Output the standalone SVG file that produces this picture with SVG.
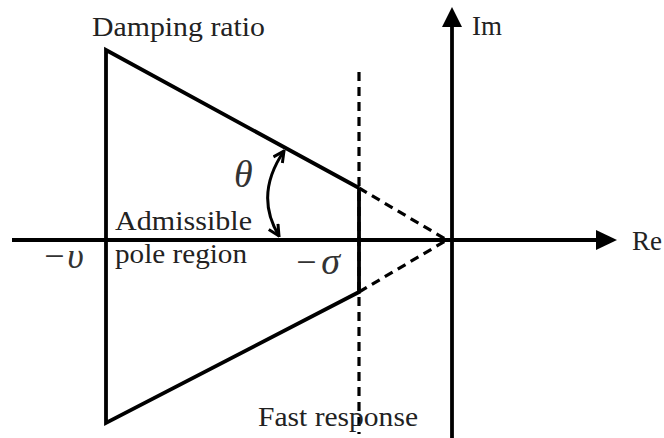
<svg xmlns="http://www.w3.org/2000/svg" width="664" height="438" viewBox="0 0 664 438">
<style>
.ln{stroke:#000;stroke-width:3.8;fill:none;stroke-linecap:butt;stroke-linejoin:miter}
.ax{stroke:#000;stroke-width:4.2;fill:none}
.ds{stroke:#000;stroke-width:3.2;fill:none;stroke-dasharray:9,6}
.t{font-family:"Liberation Serif","Times New Roman",serif;font-size:27px;fill:#222}
.m{font-family:"Liberation Serif","DejaVu Serif","Times New Roman",serif;font-style:italic;fill:#333}
</style>
<defs>
<marker id="va" viewBox="0 0 10 10" refX="9" refY="5" markerWidth="4.5" markerHeight="4.5" markerUnits="strokeWidth" orient="auto-start-reverse">
<path d="M1,1 L9,5 L1,9" fill="none" stroke="#000" stroke-width="2.2"/>
</marker>
</defs>
<g id="axes">
<line class="ax" x1="12" y1="240" x2="600" y2="240"/>
<path d="M596,230 L617,240 L596,250 Z" fill="#000"/>
<line class="ln" x1="452" y1="438" x2="452" y2="26"/>
<path d="M442,27 L452,7 L462,27 Z" fill="#000"/>
</g>
<g id="connectors">
<polyline class="ln" points="359,188 106,50 106,423 359,292 359,188"/>
<line class="ds" x1="359" y1="188" x2="447" y2="240"/>
<line class="ds" x1="359" y1="292" x2="447" y2="240"/>
<line class="ds" x1="359" y1="72" x2="359" y2="434"/>
<path d="M284,151 Q254,195 279,236" stroke="#000" stroke-width="3" fill="none" marker-start="url(#va)" marker-end="url(#va)"/>
</g>
<g id="labels">
<text class="t" x="92" y="36" textLength="173" lengthAdjust="spacingAndGlyphs">Damping ratio</text>
<text class="t" x="472" y="35" textLength="30" lengthAdjust="spacingAndGlyphs">Im</text>
<text class="t" x="632" y="250">Re</text>
<text class="t" x="115" y="230" textLength="137" lengthAdjust="spacingAndGlyphs">Admissible</text>
<text class="t" x="115" y="263" textLength="132" lengthAdjust="spacingAndGlyphs">pole region</text>
<text class="t" x="258" y="426" textLength="160" lengthAdjust="spacingAndGlyphs">Fast response</text>
<text class="m" x="234" y="187" font-size="38">θ</text>
<text class="m" x="42" y="268"><tspan font-size="36">−</tspan><tspan font-size="36" dx="1">υ</tspan></text>
<text class="m" x="294" y="274"><tspan font-size="36">−</tspan><tspan font-size="38" dx="3">σ</tspan></text>
</g>
</svg>
